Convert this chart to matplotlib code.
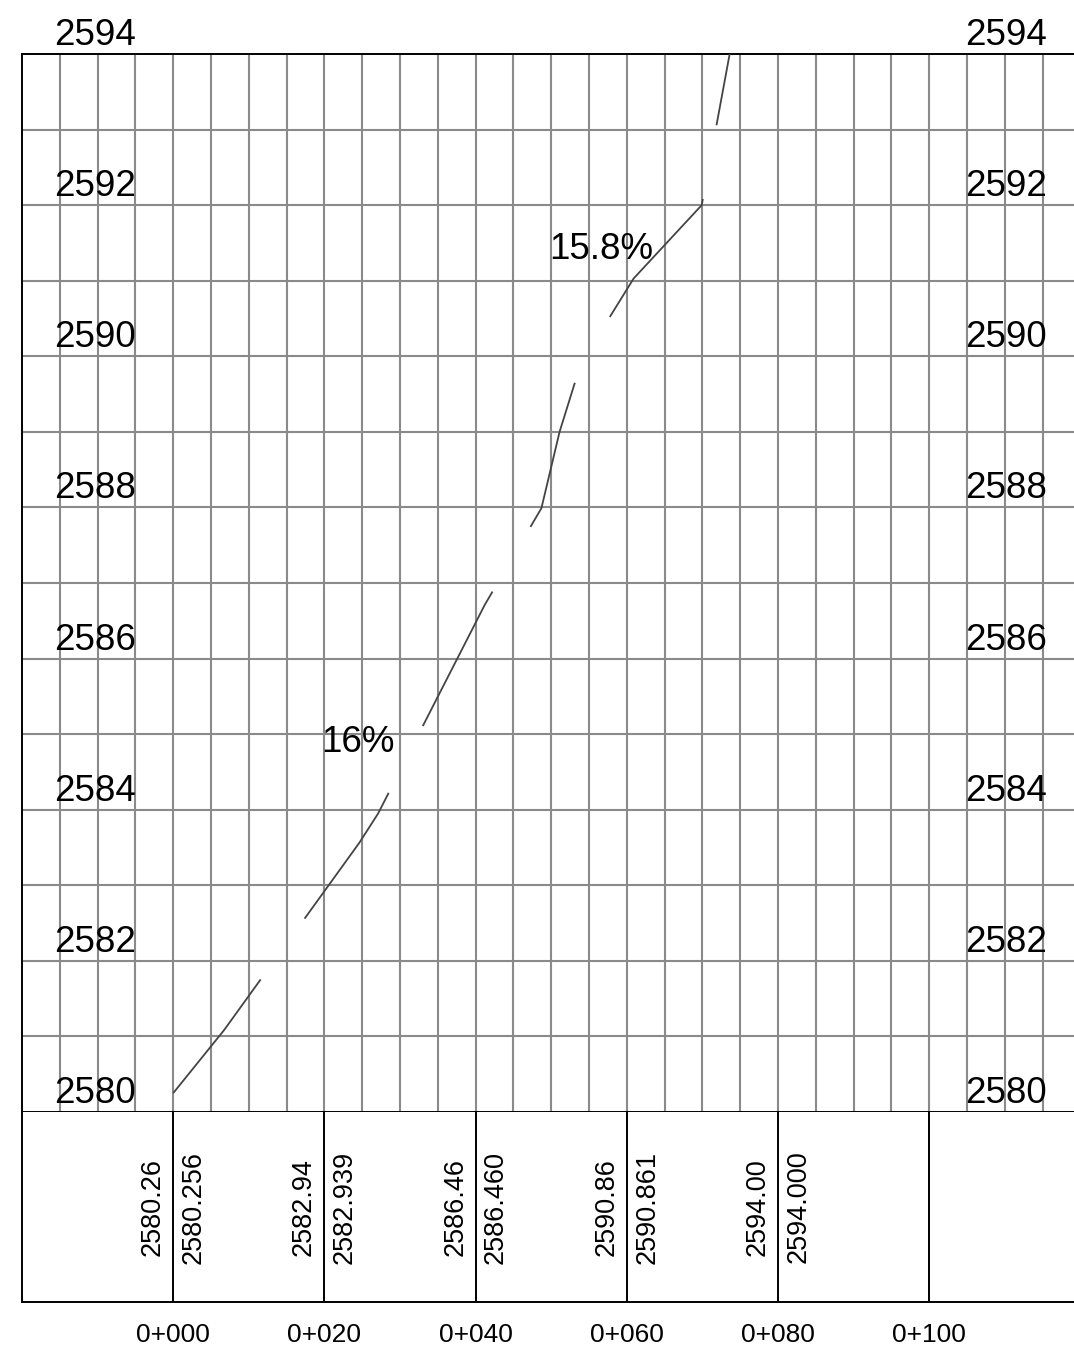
import matplotlib
matplotlib.use("Agg")
import matplotlib.pyplot as plt
import numpy as np

plt.rcParams['font.family'] = ['Liberation Sans', 'DejaVu Sans']

# ground profile (station m, elevation m)
prof_x = [0.0, 6.7, 24.6, 27.1, 41.2, 48.7, 51.1, 53.9, 60.9, 69.9, 76.0]
prof_z = [2580.25, 2581.08, 2583.56, 2583.95, 2586.71, 2587.99, 2589.00, 2589.90, 2591.03, 2592.00, 2595.3]

# table band values
stations = [0, 20, 40, 60, 80]
ground = [2580.26, 2582.94, 2586.46, 2590.86, 2594.00]
design = [2580.256, 2582.939, 2586.460, 2590.861, 2594.000]
chain_ticks = [0, 20, 40, 60, 80, 100]
chain_labels = ["0+000", "0+020", "0+040", "0+060", "0+080", "0+100"]
elev_labels = [2580, 2582, 2584, 2586, 2588, 2590, 2592, 2594]

# slope notes
slope_text = ["16%", "15.8%"]
slope_x = [19.6, 49.8]
slope_z = [2584.76, 2591.29]

W, H = 1074, 1353
fig = plt.figure(figsize=(W / 100, H / 100), dpi=100)

xmin, xmax = -20, (1074 - 173.3) / 7.56
ax = fig.add_axes([22 / W, 1 - 1112 / H, (W - 22) / W, (1112 - 54) / H])
axt = fig.add_axes([22 / W, 1 - 1302 / H, (W - 22) / W, (1302 - 1112) / H])

grid_c = '#8a8a8a'

ax.set_xlim(xmin, xmax)
ax.set_ylim(2580, 2594)
ax.set_xticks(np.arange(-15, 120, 5))
ax.set_yticks(np.arange(2581, 2594, 1))
ax.grid(True, color=grid_c, lw=1.5)
ax.tick_params(length=0, labelbottom=False, labelleft=False)
for side in ['left', 'top', 'bottom']:
    ax.spines[side].set_color('black')
    ax.spines[side].set_linewidth(1.4)
ax.spines['right'].set_visible(False)

lw = 1.3
ax.plot(prof_x, prof_z, color='#444444', lw=lw,
        linestyle=(5.8 / lw, (109.1 / lw, 54.0 / lw)), zorder=3)

for z in elev_labels:
    for xs in [-15.7, 104.7]:
        ax.text(xs, z + 0.12, str(z), fontsize=26.5, ha='left', va='baseline',
                clip_on=False, zorder=4)

for t, xs, zs in zip(slope_text, slope_x, slope_z):
    ax.text(xs, zs, t, fontsize=26.5, ha='left', va='baseline', zorder=4)

# table band
axt.set_xlim(xmin, xmax)
axt.set_ylim(0, 1)
axt.set_xticks([])
axt.set_yticks([])
for side in ['left', 'bottom']:
    axt.spines[side].set_color('black')
    axt.spines[side].set_linewidth(1.4)
axt.spines['top'].set_visible(False)
axt.spines['right'].set_visible(False)
for s in chain_ticks:
    axt.axvline(s, color='black', lw=1.4)

for s, g, d in zip(stations, ground, design):
    axt.text(s - 2.69, 0.5, f"{g:.2f}", rotation=90, fontsize=19.5,
             ha='center', va='center')
    axt.text(s + 2.69, 0.5, f"{d:.3f}", rotation=90, fontsize=19.5,
             ha='center', va='center')

for s, lab in zip(chain_ticks, chain_labels):
    axt.text(s, -40 / 190, lab, fontsize=19, ha='center', va='baseline',
             clip_on=False)

fig.savefig('out.png', dpi=100)
